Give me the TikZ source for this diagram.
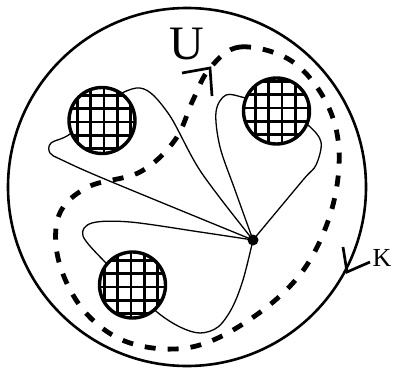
\documentclass[tikz,border=0pt]{standalone}
\usepackage{fontspec}
\setmainfont{Liberation Serif}
\newcommand{\gridball}[4]{%
  \fill[white] (#1,#2) circle[radius=33pt];
  \begin{scope}
    \clip (#1,#2) circle[radius=33pt];
    \foreach \k in {-3,...,3} {
      \draw[hatch] ({#1+#3+13.4*\k}, #2-40) -- ({#1+#3+13.4*\k}, #2+40);
      \draw[hatch] (#1-40, {#2+#4+13.4*\k}) -- (#1+40, {#2+#4+13.4*\k});
    }
  \end{scope}
  \draw[ballrim] (#1,#2) circle[radius=33pt];
}
\begin{document}
\begin{tikzpicture}[x=1pt,y=-1pt,
  petal/.style={line width=1.3pt, line join=round},
  rim/.style={line width=2.6pt},
  ballrim/.style={line width=3.4pt},
  hatch/.style={line width=2.7pt},
  loopU/.style={line width=4.8pt, dash pattern=on 11pt off 12pt},
  tick/.style={line width=2.7pt, line join=miter},
  lbl/.style={inner sep=0pt}]
\useasboundingbox (0,0) rectangle (393,369);
% outer disc K
\draw[rim] (187,187) circle[radius=179pt];
% dashed loop U
\draw[loopU] plot[smooth cycle, tension=0.6] coordinates {
  (210,68) (240,47) (290,60) (325,100) (339,150) (331,212) (302,272)
  (252,318) (192,347) (130,343) (85,312) (59,262) (59,215) (88,187)
  (140,172) (175,140) (193,100)};
% petals from the point
\coordinate (D) at (253,240);
\draw[petal] plot[smooth, tension=0.55] coordinates {
  (253,240) (201,172) (168,113) (140,88) (102,105) (70,134) (51,143)
  (50,153) (62,160) (107,180) (253,240)};
\draw[petal] plot[smooth, tension=0.55] coordinates {
  (253,240) (235,190) (220,147) (216,112) (226,95) (246,98) (280,105)
  (308,125) (321,142) (316,165) (303,180) (253,240)};
\draw[petal] plot[smooth, tension=0.55] coordinates {
  (253,240) (200,232) (130,222) (92,223) (83,236) (105,262) (130,285)
  (157,312) (180,327) (200,333) (218,327) (232,308) (243,280) (253,240)};
% hatched discs
\gridball{102}{120.5}{2}{1.5}
\gridball{276.5}{111}{5.5}{-3}
\gridball{132.5}{285}{-1.5}{2}
% the point
\node[circle, fill, inner sep=0pt, minimum size=11pt] (P) at (D) {};
% labels and markers
\node[lbl, font=\fontsize{48}{48}\selectfont] (U) at (187,44) {U};
\node[lbl, font=\fontsize{26}{26}\selectfont] (K) at (382,258) {K};
\coordinate (u1) at (182,73);
\coordinate (u0) at (210,68);
\coordinate (u2) at (212,96);
\draw[tick] (u1) -- (u0) -- (u2);
\coordinate (k1) at (343,247);
\coordinate (k0) at (347,272);
\coordinate (k2) at (370,262);
\draw[tick] (k1) -- (k0) -- (k2);
\end{tikzpicture}
\end{document}
